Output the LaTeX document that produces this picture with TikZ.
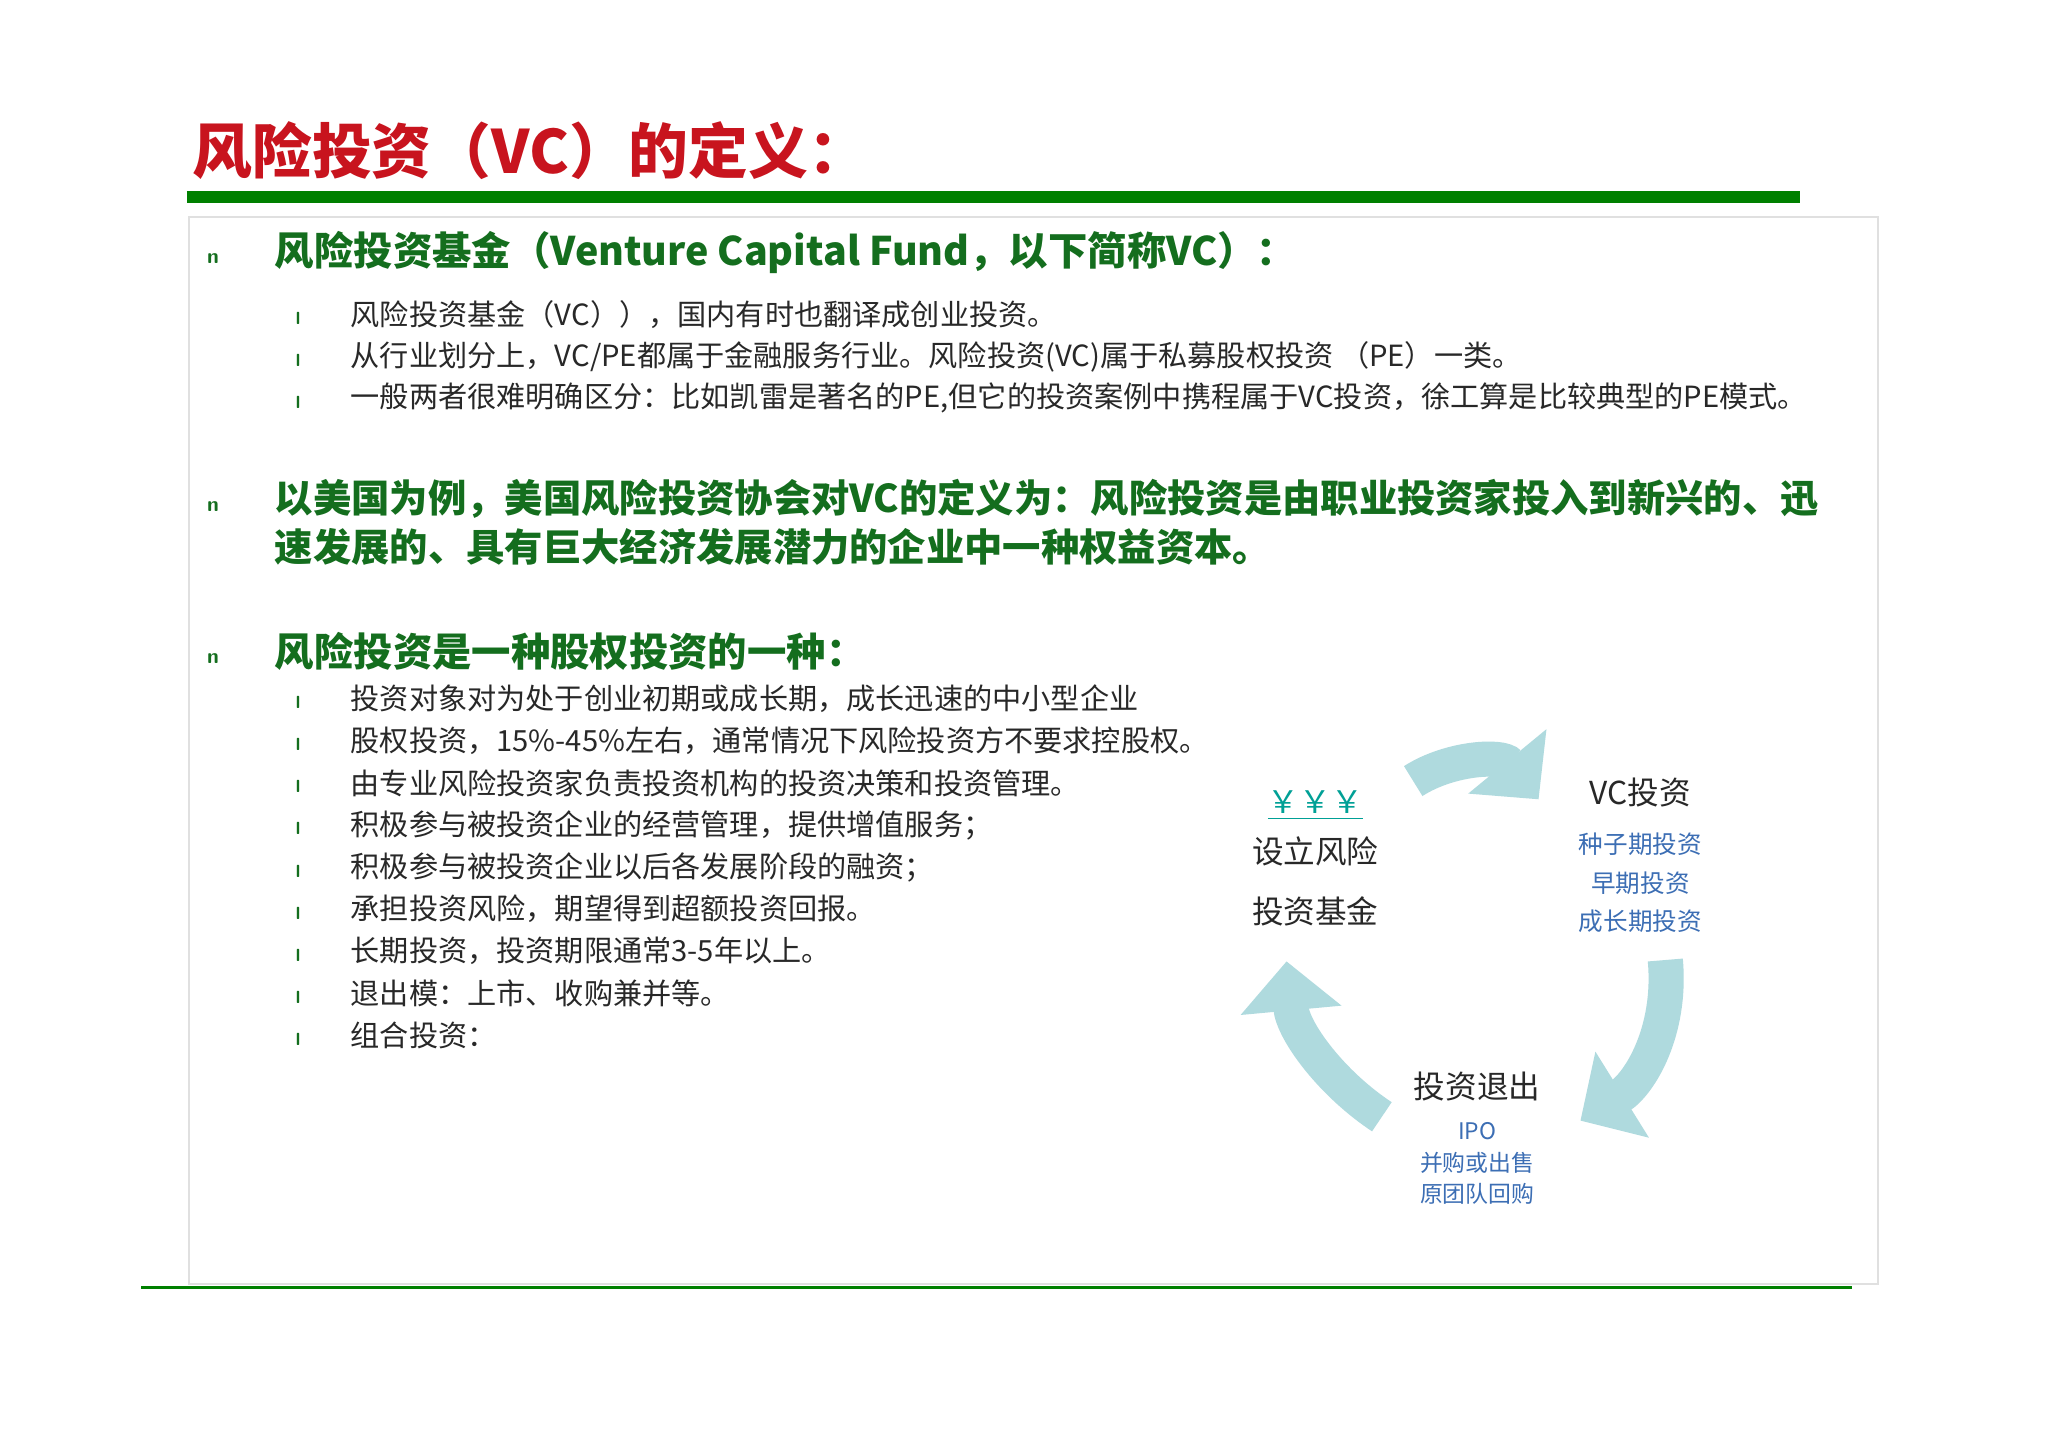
\documentclass[tikz,border=0pt]{standalone}
\usepackage{fontspec}
\setmainfont{Liberation Sans}
\newfontfamily\cjk{Noto Sans CJK SC}
\usetikzlibrary{arrows.meta}
\definecolor{ttl}{RGB}{200,20,30}
\definecolor{grn}{RGB}{0,128,0}
\definecolor{hd}{RGB}{20,110,30}
\definecolor{bd}{RGB}{40,40,40}
\definecolor{lb}{RGB}{175,218,222}
\definecolor{bl}{RGB}{60,110,180}
\definecolor{tq}{RGB}{0,160,150}
\begin{document}
\begin{tikzpicture}[x=0.013061cm,y=-0.013061cm,
 hd/.style={anchor=west,inner sep=0,text=hd,font=\cjk\fontsize{11.2}{15}\selectfont\bfseries},
 bd/.style={anchor=west,inner sep=0,text=bd,font=\cjk\fontsize{8.3}{10}\selectfont},
 b1/.style={anchor=west,inner sep=0,text=hd,font=\sffamily\bfseries\fontsize{6}{7}\selectfont},
 b2/.style={anchor=west,inner sep=0,text=hd,font=\sffamily\bfseries\fontsize{5}{6}\selectfont},
 cy/.style={inner sep=0,text=bd,font=\cjk\fontsize{9}{11}\selectfont},
 sm/.style={inner sep=0,text=bl,font=\cjk\fontsize{7}{9}\selectfont},
 ar/.style={line width=10pt,draw=lb,-{Triangle[length=14pt,width=28pt]}}]
\useasboundingbox (0,0) rectangle (1568,1108);
\fill[white] (0,0) rectangle (1568,1108);
\node[anchor=west,inner sep=0,text=ttl,font=\cjk\fontsize{17}{20}\selectfont\bfseries] (title) at (147,115) {风险投资（VC）的定义：};
\draw[grn,line width=3.5pt] (143,151) -- (1378,151);
\draw[black!12,line width=0.6pt] (145,166) rectangle (1438,983);
\draw[grn,line width=0.8pt] (108,986) -- (1418,986);
\node[b1] (m1) at (158,198) {n};
\node[hd] (h1) at (210,193) {风险投资基金（Venture Capital Fund，以下简称VC）：};
\node[b2] (s1) at (226,244) {l};
\node[bd] (t1) at (268,241) {风险投资基金（VC）），国内有时也翻译成创业投资。};
\node[b2] (s2) at (226,276) {l};
\node[bd] (t2) at (268,273) {从行业划分上，VC/PE都属于金融服务行业。风险投资(VC)属于私募股权投资 （PE）一类。};
\node[b2] (s3) at (226,308) {l};
\node[bd] (t3) at (268,305) {一般两者很难明确区分：比如凯雷是著名的PE,但它的投资案例中携程属于VC投资，徐工算是比较典型的PE模式。};
\node[b1] (m2) at (158,388) {n};
\node[hd,align=left,font=\cjk\fontsize{10.9}{14}\selectfont\bfseries] (h2) at (210,400) {以美国为例，美国风险投资协会对VC的定义为：风险投资是由职业投资家投入到新兴的、迅\\速发展的、具有巨大经济发展潜力的企业中一种权益资本。};
\node[b1] (m3) at (158,504) {n};
\node[hd] (h3) at (210,499) {风险投资是一种股权投资的一种：};
\foreach \i/\t in {0/投资对象对为处于创业初期或成长期，成长迅速的中小型企业,
 1/股权投资，15\%-45\%左右，通常情况下风险投资方不要求控股权。,
 2/由专业风险投资家负责投资机构的投资决策和投资管理。,
 3/积极参与被投资企业的经营管理，提供增值服务；,
 4/积极参与被投资企业以后各发展阶段的融资；,
 5/承担投资风险，期望得到超额投资回报。,
 6/长期投资，投资期限通常3-5年以上。,
 7/退出模：上市、收购兼并等。,
 8/组合投资：}{
 \node[b2] (p\i) at (226,{538+32.2*\i}) {l};
 \node[bd] (q\i) at (268,{535+32.2*\i}) {\t};
}
% cycle
\node[inner sep=0,text=tq,font=\cjk\fontsize{9}{11}\selectfont] (yen) at (1007,617) {\underline{￥￥￥}};
\node[cy,align=center] (fund) at (1007,675) {设立风险\\[6pt]投资基金};
\node[cy] (vc) at (1256,607) {VC投资};
\node[sm,align=center] (vcs) at (1256,676) {种子期投资\\[2pt]早期投资\\[2pt]成长期投资};
\node[cy] (ex) at (1131,832) {投资退出};
\node[sm,align=center] (exs) at (1131,891) {\fontsize{6.5}{8}\selectfont IPO\\[0pt]\fontsize{6.5}{8}\selectfont 并购或出售\\[0pt]\fontsize{6.5}{8}\selectfont 原团队回购};
\coordinate (a1) at (1082,598);
\coordinate (a2) at (1178,612);
\coordinate (b1) at (1275,735);
\coordinate (b2) at (1210,858);
\coordinate (c1) at (1058,855);
\coordinate (c2) at (985,736);
\draw[ar] (a1) .. controls (1110,580) and (1150,578) .. (a2);
\draw[ar] (b1) .. controls (1280,790) and (1255,830) .. (b2);
\draw[ar] (c1) .. controls (1020,830) and (990,790) .. (c2);
\end{tikzpicture}
\end{document}
